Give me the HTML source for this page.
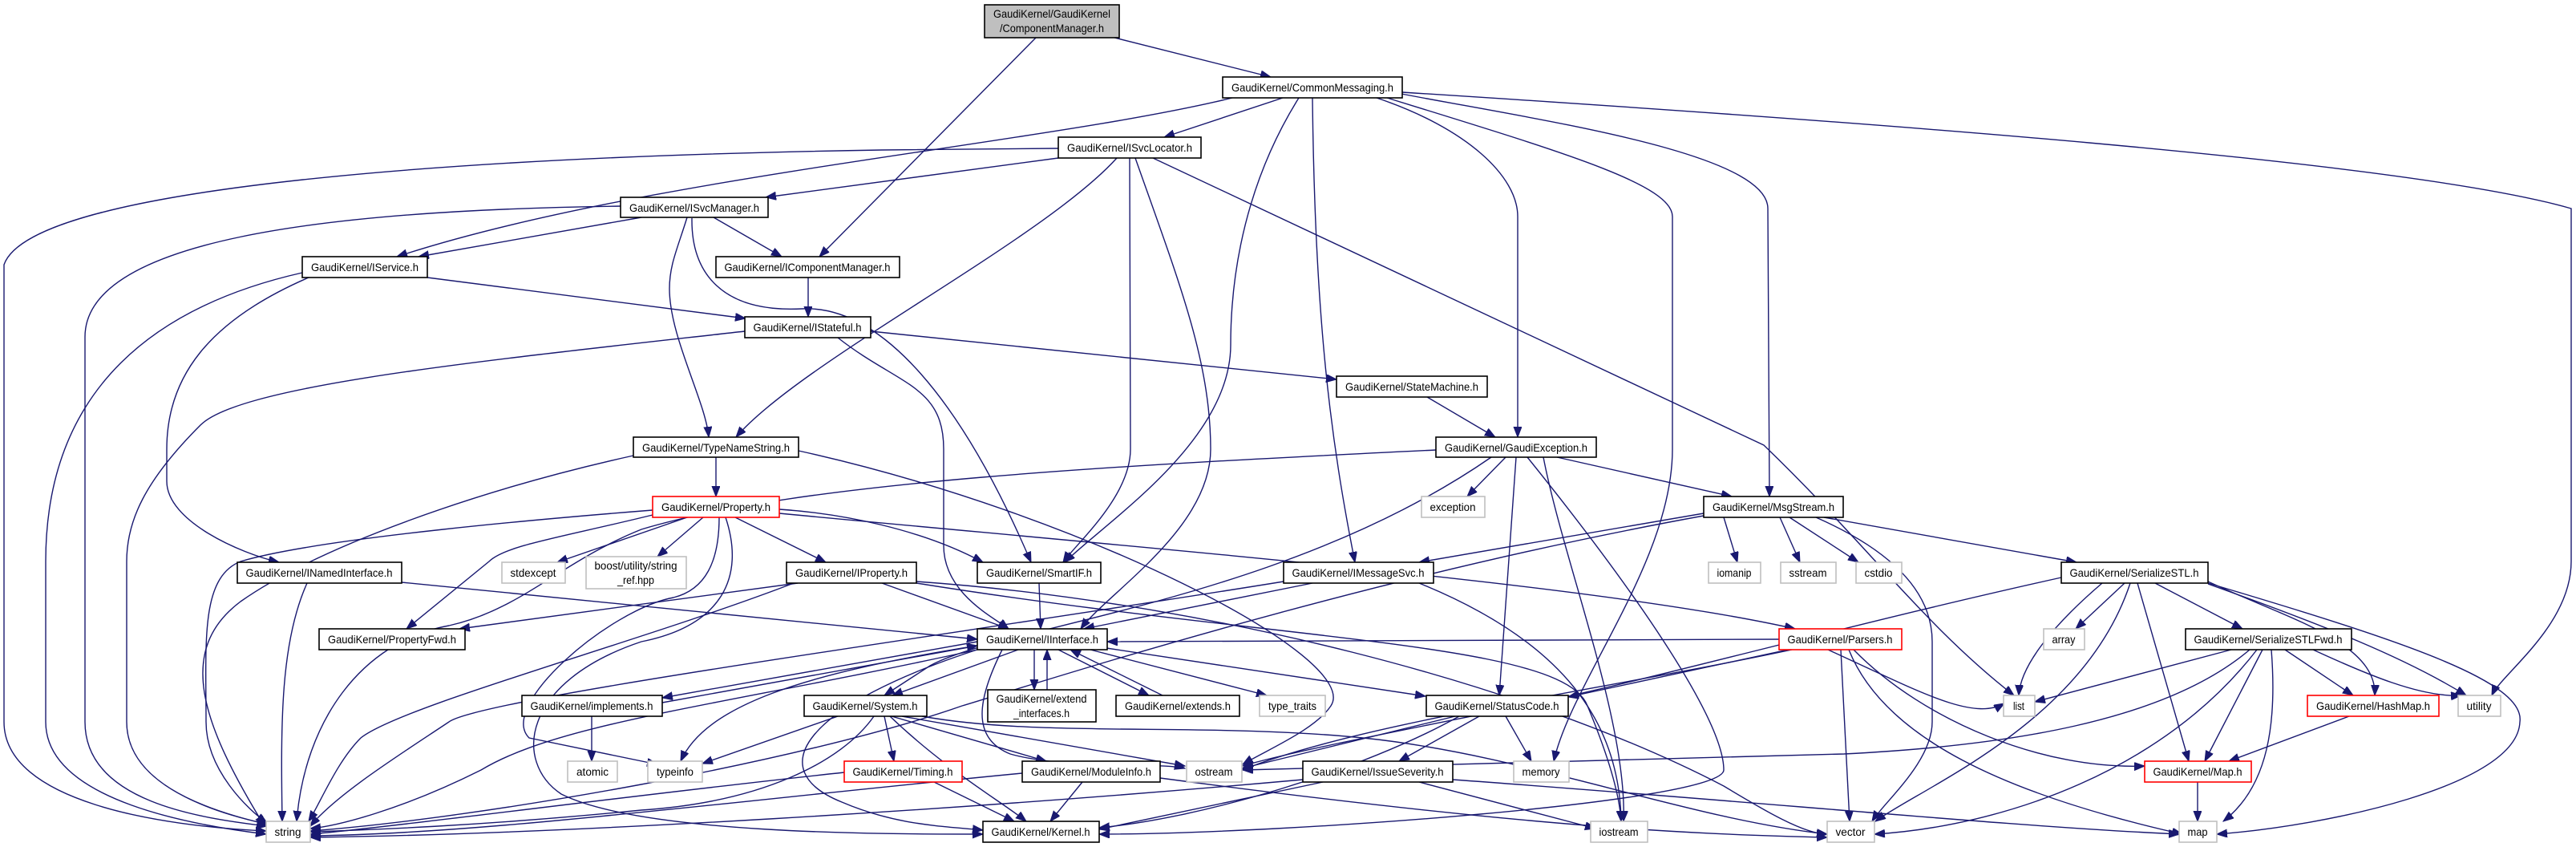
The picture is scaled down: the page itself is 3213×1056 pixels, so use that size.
<!DOCTYPE html>
<html><head><meta charset="utf-8"><style>
html,body{margin:0;padding:0;background:#fff;}
svg{display:block;}
text{font-family:"Liberation Sans",sans-serif;font-size:14px;fill:#000;text-anchor:middle;}
.e{fill:none;stroke:#191970;stroke-width:1.4;marker-end:url(#a);}
.n{fill:#fff;stroke:#000;stroke-width:1.6;}
.g{fill:#fff;stroke:#bfbfbf;stroke-width:1.6;}
.r{fill:#fff;stroke:#ff0000;stroke-width:1.6;}
</style></head><body>
<svg width="3213" height="1056" viewBox="0 0 3213 1056" xmlns="http://www.w3.org/2000/svg">
<defs><marker id="a" markerUnits="userSpaceOnUse" markerWidth="14" markerHeight="12" refX="13" refY="5" orient="auto"><path d="M0,0 L13,5 L0,10 z" fill="#191970" stroke="#191970"/></marker></defs>
<g>
<path class="e" d="M1292,47 L1022,320"/>
<path class="e" d="M1390,47 L1585,96"/>
<path class="e" d="M1600,122 L1452,171"/>
<path class="e" d="M1537,122 C1300,180 800,220 495,320"/>
<path class="e" d="M1620,122 C1540,250 1535,380 1535,430 C1535,550 1380,650 1328,701"/>
<path class="e" d="M1637,122 C1640,400 1660,550 1690,701"/>
<path class="e" d="M1717,122 C1830,160 1893,220 1893,270 L1893,545"/>
<path class="e" d="M1730,122 C1950,190 2086,230 2086,270 L2086,560 C2086,700 1960,850 1938,949"/>
<path class="e" d="M1748,117 C1920,150 2205,190 2205,260 L2207,619"/>
<path class="e" d="M1749,115 C2300,150 3000,200 3207,260 L3207,700 C3207,780 3120,840 3108,867"/>
<path class="e" d="M1320,197 L955,246"/>
<path class="e" d="M1320,185 L1100,187 C600,195 40,230 5,330 L5,900 C5,1000 200,1030 332,1036"/>
<path class="e" d="M1393,197 C1300,300 1000,450 918,545"/>
<path class="e" d="M1409,197 L1410,560 C1410,620 1340,680 1326,701"/>
<path class="e" d="M1416,197 C1470,350 1510,450 1510,560 C1510,660 1380,740 1348,784"/>
<path class="e" d="M1438,197 L2200,555 C2330,680 2400,780 2512,867"/>
<path class="e" d="M774,257 C400,262 106,300 106,420 L106,900 C106,1000 250,1020 333,1030"/>
<path class="e" d="M800,271 L522,320"/>
<path class="e" d="M890,271 L975,320"/>
<path class="e" d="M857,271 C845,310 835,330 835,360 C835,420 880,500 884,545"/>
<path class="e" d="M863,272 C862,340 900,390 1000,385 C1100,380 1200,500 1286,701"/>
<path class="e" d="M377,340 C200,380 57,480 57,700 L57,900 C57,1000 250,1030 332,1040"/>
<path class="e" d="M385,346 C260,400 208,470 208,560 L208,600 C208,650 300,690 348,701"/>
<path class="e" d="M533,346 L930,397"/>
<path class="e" d="M1008,346 L1008,395"/>
<path class="e" d="M929,413 C600,450 300,480 250,530 C180,600 158,650 158,700 L158,900 C158,990 300,1020 335,1028"/>
<path class="e" d="M1086,413 L1667,473"/>
<path class="e" d="M1045,421 C1120,480 1177,480 1177,560 L1177,680 C1177,740 1240,770 1258,784"/>
<path class="e" d="M1780,495 L1865,545"/>
<path class="e" d="M790,568 C600,610 400,680 300,750 C220,810 250,900 330,1030"/>
<path class="e" d="M893,570 L893,619"/>
<path class="e" d="M996,562 C1350,640 1700,820 1660,880 C1640,910 1580,935 1550,953"/>
<path class="e" d="M814,636 C700,645 400,670 300,700 C250,720 257,800 257,900 C257,960 310,1010 333,1026"/>
<path class="e" d="M814,642 C700,670 630,680 610,700 L507,784"/>
<path class="e" d="M857,645 L695,701"/>
<path class="e" d="M877,645 L820,694"/>
<path class="e" d="M917,645 L1030,701"/>
<path class="e" d="M972,635 C1050,640 1150,660 1226,701"/>
<path class="e" d="M972,640 C1500,690 2000,730 2239,784"/>
<path class="e" d="M897,645 C897,700 880,735 840,745 C760,760 620,880 660,920 L820,953"/>
<path class="e" d="M905,645 C930,720 900,780 800,800 C650,850 640,950 700,990 C800,1040 1100,1040 1226,1040"/>
<path class="e" d="M383,727 C350,800 350,900 352,1024"/>
<path class="e" d="M501,726 L1219,797"/>
<path class="e" d="M995,727 L573,784"/>
<path class="e" d="M990,727 C800,800 500,880 450,920 C420,950 400,1000 385,1024"/>
<path class="e" d="M1100,727 L1258,784"/>
<path class="e" d="M1143,727 C1600,800 1950,800 1980,880 C2005,940 2020,990 2022,1024"/>
<path class="e" d="M1143,725 C1500,750 1900,850 2150,980 C2200,1010 2250,1040 2279,1040"/>
<path class="e" d="M1296,727 L1298,784"/>
<path class="e" d="M1601,725 C1200,790 600,870 560,900 C500,940 420,990 387,1030"/>
<path class="e" d="M1637,727 L1352,784"/>
<path class="e" d="M1770,727 C1950,800 2020,900 2022,1024"/>
<path class="e" d="M1878,570 L1830,619"/>
<path class="e" d="M1891,570 L1870,867"/>
<path class="e" d="M1860,570 C1600,750 1250,780 1160,830 L1103,867"/>
<path class="e" d="M1791,561 C1400,580 1000,600 800,660 C700,700 650,760 560,780 C450,800 380,900 370,1024"/>
<path class="e" d="M1942,570 L2160,619"/>
<path class="e" d="M1905,570 C2050,750 2150,900 2150,960 C2150,1000 1600,1040 1371,1040"/>
<path class="e" d="M1925,570 C1950,700 2030,900 2025,1024"/>
<path class="e" d="M2125,640 L1770,701"/>
<path class="e" d="M2125,643 C1700,720 1300,850 1200,880 C1000,950 600,1020 387,1036"/>
<path class="e" d="M2150,645 L2167,701"/>
<path class="e" d="M2220,645 L2245,701"/>
<path class="e" d="M2232,645 L2318,701"/>
<path class="e" d="M2275,645 L2590,701"/>
<path class="e" d="M2265,645 C2390,700 2410,760 2410,800 L2410,900 C2410,950 2350,1000 2335,1024"/>
<path class="e" d="M1219,800 L826,870"/>
<path class="e" d="M826,876 L1219,805"/>
<path class="e" d="M1270,810 L1113,867"/>
<path class="e" d="M1290,810 L1290,860"/>
<path class="e" d="M1306,860 L1306,810"/>
<path class="e" d="M1320,810 L1433,867"/>
<path class="e" d="M1450,867 L1335,810"/>
<path class="e" d="M1360,810 L1580,867"/>
<path class="e" d="M1380,808 L1778,868"/>
<path class="e" d="M1219,805 C1000,840 880,880 849,949"/>
<path class="e" d="M1250,810 C1220,870 1210,920 1260,940 C1330,960 1450,950 1478,958"/>
<path class="e" d="M1225,808 C1000,880 950,960 1050,1000 C1120,1030 1180,1030 1226,1035"/>
<path class="e" d="M1219,810 C900,880 700,900 600,960 C500,1010 420,1030 387,1033"/>
<path class="e" d="M738,893 L738,949"/>
<path class="e" d="M1045,893 L876,952"/>
<path class="e" d="M1103,893 L1115,949"/>
<path class="e" d="M1112,893 L1305,949"/>
<path class="e" d="M1110,893 C1180,960 1250,1000 1280,1024"/>
<path class="e" d="M1125,893 L1478,955"/>
<path class="e" d="M1090,893 C1050,950 950,1000 800,1010 C600,1030 450,1035 387,1037"/>
<path class="e" d="M1150,893 C1300,920 1500,900 1700,920 C1900,940 2100,1020 2279,1040"/>
<path class="e" d="M1053,963 C800,990 500,1030 387,1040"/>
<path class="e" d="M1165,975 L1265,1024"/>
<path class="e" d="M1275,964 C900,1000 600,1040 387,1042"/>
<path class="e" d="M1350,975 L1310,1024"/>
<path class="e" d="M1447,970 C1900,1030 2100,1040 2279,1044"/>
<path class="e" d="M1815,893 L1549,958"/>
<path class="e" d="M1845,893 L1745,949"/>
<path class="e" d="M1878,893 L1910,949"/>
<path class="e" d="M1820,893 C1700,960 1500,1020 1371,1032"/>
<path class="e" d="M1625,972 C1200,1010 700,1040 387,1044"/>
<path class="e" d="M1650,975 L1371,1034"/>
<path class="e" d="M1770,975 L1990,1033"/>
<path class="e" d="M1812,972 C2200,1000 2500,1030 2718,1040"/>
<path class="e" d="M2230,810 L1956,869"/>
<path class="e" d="M2235,810 C2000,860 1700,900 1549,960"/>
<path class="e" d="M2219,797 L1381,800"/>
<path class="e" d="M2280,810 C2390,860 2460,900 2500,877"/>
<path class="e" d="M2296,810 L2307,1024"/>
<path class="e" d="M2306,810 C2350,920 2500,990 2722,1040"/>
<path class="e" d="M2312,810 C2400,900 2550,960 2675,955"/>
<path class="e" d="M2571,720 C2300,780 2050,850 1900,880 C1700,920 1600,940 1550,955"/>
<path class="e" d="M2622,727 C2560,780 2520,830 2518,867"/>
<path class="e" d="M2650,727 L2589,784"/>
<path class="e" d="M2657,727 C2600,900 2400,980 2339,1024"/>
<path class="e" d="M2666,727 L2730,949"/>
<path class="e" d="M2688,727 L2797,784"/>
<path class="e" d="M2754,725 C2850,770 2965,800 2962,867"/>
<path class="e" d="M2754,728 C2900,780 3000,820 3076,867"/>
<path class="e" d="M2754,727 C3000,800 3150,850 3143,900 C3140,980 2900,1030 2765,1040"/>
<path class="e" d="M2783,810 L2538,875"/>
<path class="e" d="M2806,810 C2700,900 2500,930 2300,940 C2000,950 1700,955 1550,960"/>
<path class="e" d="M2815,810 C2700,960 2500,1030 2338,1040"/>
<path class="e" d="M2822,810 L2750,949"/>
<path class="e" d="M2833,810 C2840,900 2830,980 2773,1024"/>
<path class="e" d="M2850,810 L2935,867"/>
<path class="e" d="M2885,810 C2950,840 3020,870 3070,867"/>
<path class="e" d="M2930,893 L2780,949"/>
<path class="e" d="M2741,975 L2741,1024"/>
</g>
<g>
<rect x="1228" y="6" width="168" height="41" fill="#bfbfbf" stroke="#000" stroke-width="1.6"/><text x="1312" y="22" textLength="146" lengthAdjust="spacingAndGlyphs">GaudiKernel/GaudiKernel</text><text x="1312" y="40" textLength="130" lengthAdjust="spacingAndGlyphs">/ComponentManager.h</text>
<rect class="n" x="1525" y="96" width="224" height="26"/><text x="1637" y="114" textLength="202" lengthAdjust="spacingAndGlyphs">GaudiKernel/CommonMessaging.h</text>
<rect class="n" x="1320" y="171" width="178" height="26"/><text x="1409" y="189" textLength="156" lengthAdjust="spacingAndGlyphs">GaudiKernel/ISvcLocator.h</text>
<rect class="n" x="774" y="246" width="184" height="25"/><text x="866" y="264" textLength="162" lengthAdjust="spacingAndGlyphs">GaudiKernel/ISvcManager.h</text>
<rect class="n" x="377" y="320" width="156" height="26"/><text x="455" y="338" textLength="134" lengthAdjust="spacingAndGlyphs">GaudiKernel/IService.h</text>
<rect class="n" x="893" y="320" width="229" height="26"/><text x="1007" y="338" textLength="207" lengthAdjust="spacingAndGlyphs">GaudiKernel/IComponentManager.h</text>
<rect class="n" x="929" y="395" width="157" height="26"/><text x="1007" y="413" textLength="135" lengthAdjust="spacingAndGlyphs">GaudiKernel/IStateful.h</text>
<rect class="n" x="1667" y="469" width="188" height="26"/><text x="1761" y="487" textLength="166" lengthAdjust="spacingAndGlyphs">GaudiKernel/StateMachine.h</text>
<rect class="n" x="790" y="545" width="206" height="25"/><text x="893" y="563" textLength="184" lengthAdjust="spacingAndGlyphs">GaudiKernel/TypeNameString.h</text>
<rect class="n" x="1791" y="545" width="200" height="25"/><text x="1891" y="563" textLength="178" lengthAdjust="spacingAndGlyphs">GaudiKernel/GaudiException.h</text>
<rect class="r" x="814" y="619" width="158" height="26"/><text x="893" y="637" textLength="136" lengthAdjust="spacingAndGlyphs">GaudiKernel/Property.h</text>
<rect class="g" x="1773" y="619" width="79" height="26"/><text x="1812" y="637" textLength="57" lengthAdjust="spacingAndGlyphs">exception</text>
<rect class="n" x="2125" y="619" width="174" height="26"/><text x="2212" y="637" textLength="152" lengthAdjust="spacingAndGlyphs">GaudiKernel/MsgStream.h</text>
<rect class="n" x="296" y="701" width="205" height="26"/><text x="398" y="719" textLength="183" lengthAdjust="spacingAndGlyphs">GaudiKernel/INamedInterface.h</text>
<rect class="g" x="626" y="701" width="79" height="26"/><text x="665" y="719" textLength="57" lengthAdjust="spacingAndGlyphs">stdexcept</text>
<rect class="g" x="731" y="694" width="125" height="40"/><text x="793" y="710" textLength="103" lengthAdjust="spacingAndGlyphs">boost/utility/string</text><text x="793" y="728" textLength="46" lengthAdjust="spacingAndGlyphs">_ref.hpp</text>
<rect class="n" x="981" y="701" width="162" height="26"/><text x="1062" y="719" textLength="140" lengthAdjust="spacingAndGlyphs">GaudiKernel/IProperty.h</text>
<rect class="n" x="1219" y="701" width="154" height="26"/><text x="1296" y="719" textLength="132" lengthAdjust="spacingAndGlyphs">GaudiKernel/SmartIF.h</text>
<rect class="n" x="1601" y="701" width="187" height="26"/><text x="1694" y="719" textLength="165" lengthAdjust="spacingAndGlyphs">GaudiKernel/IMessageSvc.h</text>
<rect class="g" x="2131" y="701" width="65" height="26"/><text x="2163" y="719" textLength="43" lengthAdjust="spacingAndGlyphs">iomanip</text>
<rect class="g" x="2221" y="701" width="69" height="26"/><text x="2255" y="719" textLength="47" lengthAdjust="spacingAndGlyphs">sstream</text>
<rect class="g" x="2315" y="701" width="57" height="26"/><text x="2343" y="719" textLength="35" lengthAdjust="spacingAndGlyphs">cstdio</text>
<rect class="n" x="2571" y="701" width="183" height="26"/><text x="2662" y="719" textLength="161" lengthAdjust="spacingAndGlyphs">GaudiKernel/SerializeSTL.h</text>
<rect class="n" x="398" y="784" width="182" height="26"/><text x="489" y="802" textLength="160" lengthAdjust="spacingAndGlyphs">GaudiKernel/PropertyFwd.h</text>
<rect class="n" x="1219" y="784" width="162" height="26"/><text x="1300" y="802" textLength="140" lengthAdjust="spacingAndGlyphs">GaudiKernel/IInterface.h</text>
<rect class="r" x="2219" y="784" width="153" height="26"/><text x="2295" y="802" textLength="131" lengthAdjust="spacingAndGlyphs">GaudiKernel/Parsers.h</text>
<rect class="g" x="2549" y="784" width="51" height="26"/><text x="2574" y="802" textLength="29" lengthAdjust="spacingAndGlyphs">array</text>
<rect class="n" x="2726" y="784" width="207" height="26"/><text x="2829" y="802" textLength="185" lengthAdjust="spacingAndGlyphs">GaudiKernel/SerializeSTLFwd.h</text>
<rect class="n" x="651" y="867" width="175" height="26"/><text x="738" y="885" textLength="153" lengthAdjust="spacingAndGlyphs">GaudiKernel/implements.h</text>
<rect class="n" x="1003" y="867" width="153" height="26"/><text x="1079" y="885" textLength="131" lengthAdjust="spacingAndGlyphs">GaudiKernel/System.h</text>
<rect class="n" x="1232" y="860" width="135" height="40"/><text x="1299" y="876" textLength="113" lengthAdjust="spacingAndGlyphs">GaudiKernel/extend</text><text x="1299" y="894" textLength="70" lengthAdjust="spacingAndGlyphs">_interfaces.h</text>
<rect class="n" x="1392" y="867" width="154" height="26"/><text x="1469" y="885" textLength="132" lengthAdjust="spacingAndGlyphs">GaudiKernel/extends.h</text>
<rect class="g" x="1571" y="867" width="82" height="26"/><text x="1612" y="885" textLength="60" lengthAdjust="spacingAndGlyphs">type_traits</text>
<rect class="n" x="1779" y="867" width="177" height="26"/><text x="1867" y="885" textLength="155" lengthAdjust="spacingAndGlyphs">GaudiKernel/StatusCode.h</text>
<rect class="g" x="2499" y="867" width="39" height="26"/><text x="2518" y="885" textLength="14" lengthAdjust="spacingAndGlyphs">list</text>
<rect class="r" x="2878" y="867" width="164" height="26"/><text x="2960" y="885" textLength="142" lengthAdjust="spacingAndGlyphs">GaudiKernel/HashMap.h</text>
<rect class="g" x="3066" y="867" width="53" height="26"/><text x="3092" y="885" textLength="31" lengthAdjust="spacingAndGlyphs">utility</text>
<rect class="g" x="708" y="949" width="62" height="26"/><text x="739" y="967" textLength="40" lengthAdjust="spacingAndGlyphs">atomic</text>
<rect class="g" x="808" y="949" width="68" height="26"/><text x="842" y="967" textLength="46" lengthAdjust="spacingAndGlyphs">typeinfo</text>
<rect class="r" x="1053" y="949" width="147" height="26"/><text x="1126" y="967" textLength="125" lengthAdjust="spacingAndGlyphs">GaudiKernel/Timing.h</text>
<rect class="n" x="1275" y="949" width="172" height="26"/><text x="1361" y="967" textLength="150" lengthAdjust="spacingAndGlyphs">GaudiKernel/ModuleInfo.h</text>
<rect class="g" x="1480" y="949" width="69" height="26"/><text x="1514" y="967" textLength="47" lengthAdjust="spacingAndGlyphs">ostream</text>
<rect class="n" x="1625" y="949" width="187" height="26"/><text x="1718" y="967" textLength="165" lengthAdjust="spacingAndGlyphs">GaudiKernel/IssueSeverity.h</text>
<rect class="g" x="1888" y="949" width="69" height="26"/><text x="1922" y="967" textLength="47" lengthAdjust="spacingAndGlyphs">memory</text>
<rect class="r" x="2675" y="949" width="133" height="26"/><text x="2741" y="967" textLength="111" lengthAdjust="spacingAndGlyphs">GaudiKernel/Map.h</text>
<rect class="g" x="332" y="1024" width="55" height="26"/><text x="359" y="1042" textLength="33" lengthAdjust="spacingAndGlyphs">string</text>
<rect class="n" x="1226" y="1024" width="145" height="26"/><text x="1298" y="1042" textLength="123" lengthAdjust="spacingAndGlyphs">GaudiKernel/Kernel.h</text>
<rect class="g" x="1984" y="1024" width="71" height="26"/><text x="2019" y="1042" textLength="49" lengthAdjust="spacingAndGlyphs">iostream</text>
<rect class="g" x="2279" y="1024" width="59" height="26"/><text x="2308" y="1042" textLength="37" lengthAdjust="spacingAndGlyphs">vector</text>
<rect class="g" x="2718" y="1024" width="47" height="26"/><text x="2741" y="1042" textLength="25" lengthAdjust="spacingAndGlyphs">map</text>
</g>
</svg>
</body></html>
